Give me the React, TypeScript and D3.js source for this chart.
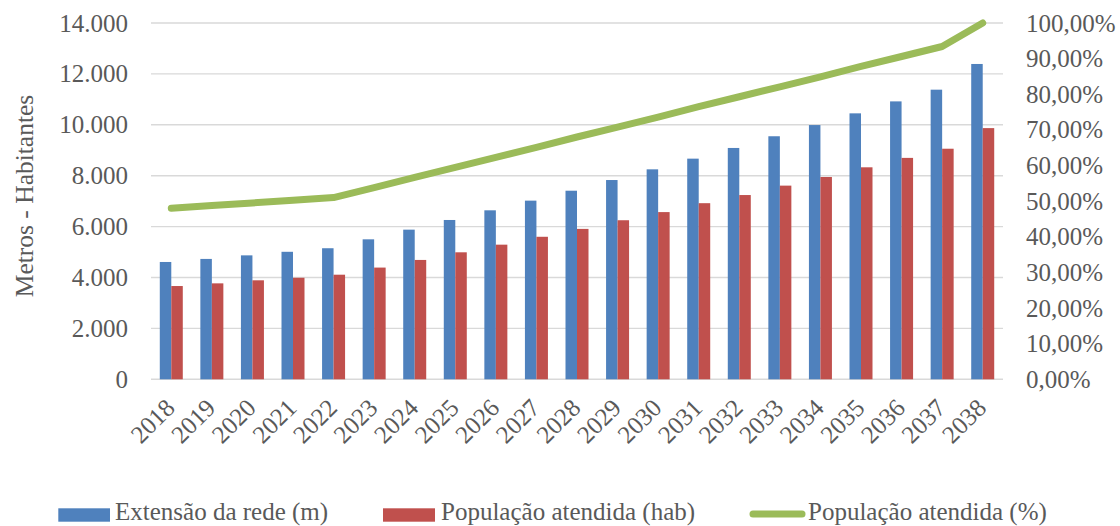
import React from "react";
import * as d3 from "d3";

const years = ["2018","2019","2020","2021","2022","2023","2024","2025","2026","2027","2028","2029","2030","2031","2032","2033","2034","2035","2036","2037","2038"];
const extensao = [4610, 4730, 4870, 5010, 5150, 5500, 5880, 6260, 6640, 7020, 7410, 7830, 8250, 8670, 9090, 9550, 9990, 10450, 10920, 11380, 12390];
const populacao = [3665, 3770, 3890, 3990, 4110, 4390, 4690, 4990, 5290, 5600, 5910, 6250, 6570, 6920, 7240, 7610, 7950, 8330, 8700, 9060, 9870];
const percentual = [0.48, 0.4875, 0.495, 0.5025, 0.51, 0.538, 0.567, 0.595, 0.623, 0.651, 0.68, 0.708, 0.736, 0.765, 0.793, 0.821, 0.849, 0.878, 0.906, 0.934, 1.0];
const leftTicks = [0, 2000, 4000, 6000, 8000, 10000, 12000, 14000];
const rightTicks = [0, 0.1, 0.2, 0.3, 0.4, 0.5, 0.6, 0.7, 0.8, 0.9, 1.0];
const seriesNames = ["Extensão da rede (m)", "População atendida (hab)", "População atendida (%)"];
const axisTitle = "Metros - Habitantes";

const BLUE = "#4f81bd";
const RED = "#c0504d";
const GREEN = "#9bbb59";
const TEXT = "#595959";
const GRID = "#d9d9d9";
const FONT = "'Liberation Serif', serif";

const locale = d3.formatLocale({ decimal: ",", thousands: ".", grouping: [3], currency: ["R$", ""] });
const fmtLeft = locale.format(",.0f");
const fmtRight = locale.format(".2%");

export default function App() {
  const W = 1120, H = 526;
  const left = 151, right = 1003, top = 23, bottom = 379.3;

  const x = d3.scaleBand<string>().domain(years).range([left, right]).paddingInner(0).paddingOuter(0);
  const x1 = d3.scaleBand<string>().domain(["ext", "pop"]).range([0, x.bandwidth()]).paddingInner(0).paddingOuter(0.764);
  const yL = d3.scaleLinear().domain([0, 14000]).range([bottom, top]);
  const yR = d3.scaleLinear().domain([0, 1]).range([bottom, top]);

  const line = d3.line<number>()
    .x((_, i) => (x(years[i]) as number) + x.bandwidth() / 2)
    .y((d) => yR(d));

  const legendBase = 520;

  return (
    <svg width={W} height={H} style={{ position: "absolute", left: 0, top: 0, background: "#fff" }} fontFamily={FONT}>
      {leftTicks.map((t) => (
        <line key={"g" + t} x1={left} x2={right} y1={yL(t)} y2={yL(t)} stroke={GRID} strokeWidth={1.4} />
      ))}
      {leftTicks.map((t) => (
        <text key={"l" + t} x={128} y={yL(t)} textAnchor="end" dominantBaseline="central" fontSize={25} fill={TEXT}>
          {fmtLeft(t)}
        </text>
      ))}
      {rightTicks.map((t) => (
        <text key={"r" + t} x={1026} y={yR(t)} textAnchor="start" dominantBaseline="central" fontSize={25} fill={TEXT}>
          {fmtRight(t)}
        </text>
      ))}
      <text transform="translate(33,196) rotate(-90)" textAnchor="middle" fontSize={25.5} fill={TEXT}>
        {axisTitle}
      </text>
      {years.map((yr, i) => {
        const bx = x(yr) as number;
        return (
          <g key={"b" + yr}>
            <rect x={bx + (x1("ext") as number)} y={yL(extensao[i])} width={x1.bandwidth()} height={bottom - yL(extensao[i])} fill={BLUE} />
            <rect x={bx + (x1("pop") as number)} y={yL(populacao[i])} width={x1.bandwidth()} height={bottom - yL(populacao[i])} fill={RED} />
          </g>
        );
      })}
      <path d={line(percentual) || ""} fill="none" stroke={GREEN} strokeWidth={7} strokeLinecap="round" strokeLinejoin="round" />
      {years.map((yr) => {
        const cx = (x(yr) as number) + x.bandwidth() / 2;
        return (
          <text key={"x" + yr} transform={`translate(${cx + 5},${bottom + 30}) rotate(-45)`} textAnchor="end" fontSize={25} fill={TEXT}>
            {yr}
          </text>
        );
      })}
      <rect x={58.3} y={508.3} width={51.7} height={13.4} fill={BLUE} />
      <text x={115} y={legendBase} fontSize={25} fill={TEXT}>{seriesNames[0]}</text>
      <rect x={383} y={508.3} width={52} height={13.4} fill={RED} />
      <text x={441} y={legendBase} fontSize={25} fill={TEXT}>{seriesNames[1]}</text>
      <line x1={753} x2={802} y1={514} y2={514} stroke={GREEN} strokeWidth={7} strokeLinecap="round" />
      <text x={808} y={legendBase} fontSize={25} fill={TEXT}>{seriesNames[2]}</text>
    </svg>
  );
}
